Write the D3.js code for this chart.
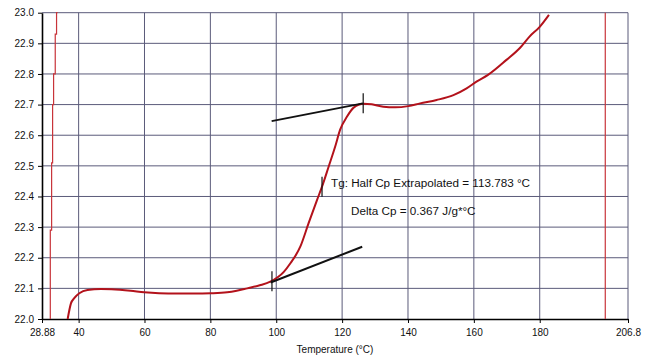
<!DOCTYPE html>
<html>
<head>
<meta charset="utf-8">
<script src="https://cdn.jsdelivr.net/npm/d3@7"></script>
<style>
  body { margin: 0; background: #fff; }
  svg { display: block; font-family: "Liberation Sans", Arial, sans-serif; }
</style>
</head>
<body>
<div id="chart"></div>
<script>
// DSC trace
const tempC = [36.67, 37.67, 38.67, 40.2, 42.7, 46.75, 50, 55.8, 59.9, 64.4, 70, 75, 80.1, 85.1, 88, 91.2, 95, 98.2,
  102.3, 104.3, 107.3, 109.8, 112.4, 113.9, 115.9, 117.9, 119.4, 121.5, 123.5, 126.5, 129.0, 132.5, 136.1, 140.1,
  143.7, 148.7, 153.8, 157.8, 160.8, 164.3, 169.9, 173.9, 176.9, 180.0, 182.8];
const signal = [22.0, 22.051, 22.068, 22.084, 22.095, 22.098, 22.097, 22.092, 22.087, 22.084, 22.083, 22.083, 22.084,
  22.087, 22.092, 22.1, 22.11, 22.122, 22.154, 22.182, 22.236, 22.312, 22.389, 22.432, 22.497, 22.563, 22.618,
  22.661, 22.69, 22.703, 22.701, 22.693, 22.691, 22.695, 22.704, 22.715, 22.731, 22.753, 22.775, 22.797, 22.846,
  22.884, 22.922, 22.954, 22.993];

// analysis limits (red verticals)
const leftLimitT = [31.4, 31.8, 32.1, 32.4, 32.9, 33.3, 33.6];
const leftLimitY = [22.0, 22.29, 22.51, 22.7, 22.8, 22.93, 23.0];
const rightLimitT = [199.9, 199.9];
const rightLimitY = [22.0, 23.0];

// tangents and Tg markers
const upperTangentT = [98.6, 126.3];
const upperTangentY = [22.646, 22.704];
const lowerTangentT = [98.3, 126.1];
const lowerTangentY = [22.119, 22.236];
const markerT = [98.7, 113.9, 126.4];
const markerY = [22.123, 22.432, 22.704];

const xTicks = [28.88, 40, 60, 80, 100, 120, 140, 160, 180, 206.8];
const yTicks = [22.0, 22.1, 22.2, 22.3, 22.4, 22.5, 22.6, 22.7, 22.8, 22.9, 23.0];
const tgLabel = 'Tg: Half Cp Extrapolated = 113.783 °C';
const dcpLabel = 'Delta Cp = 0.367 J/g*°C';
const xTitle = 'Temperature (°C)';

const width = 645, height = 359;
const margin = {top: 12.7, right: 17, bottom: 40, left: 42};

const svg = d3.select('#chart').append('svg')
  .attr('width', width)
  .attr('height', height);

const x = d3.scaleLinear().domain([28.88, 206.8]).range([margin.left, width - margin.right]);
const y = d3.scaleLinear().domain([22.0, 23.0]).range([height - margin.bottom, margin.top]);

// grid
const gridCol = '#5b5b7a';
svg.append('g').selectAll('line')
  .data(xTicks.slice(1))
  .enter().append('line')
  .attr('x1', d => x(d)).attr('x2', d => x(d))
  .attr('y1', y(22.0)).attr('y2', y(23.0))
  .attr('stroke', gridCol).attr('stroke-width', 1);
svg.append('g').selectAll('line')
  .data(yTicks.slice(1))
  .enter().append('line')
  .attr('x1', x(28.88)).attr('x2', x(206.8))
  .attr('y1', d => y(d)).attr('y2', d => y(d))
  .attr('stroke', gridCol).attr('stroke-width', 1);

// axes
const xAxis = svg.append('g')
  .attr('transform', `translate(0,${y(22.0)})`)
  .call(d3.axisBottom(x).tickValues(xTicks).tickFormat(d => String(d)).tickSize(4).tickSizeOuter(0).tickPadding(6));
const yAxis = svg.append('g')
  .attr('transform', `translate(${x(28.88)},0)`)
  .call(d3.axisLeft(y).tickValues(yTicks).tickFormat(d3.format('.1f')).tickSize(4).tickSizeOuter(0).tickPadding(4));
[xAxis, yAxis].forEach(g => {
  g.select('.domain').attr('stroke', '#000').attr('stroke-width', 1.6);
  g.selectAll('.tick line').attr('stroke', '#000');
  g.selectAll('text').attr('fill', '#111').style('font-size', '10px').style('font-family', '"Liberation Sans", Arial, sans-serif');
});

svg.append('text')
  .attr('x', (x(28.88) + x(206.8)) / 2)
  .attr('y', 353)
  .attr('text-anchor', 'middle')
  .style('font-size', '10px')
  .attr('fill', '#111')
  .text(xTitle);

// limit lines
const stepLine = d3.line().x(d => x(d[0])).y(d => y(d[1])).curve(d3.curveStepBefore);
svg.append('path')
  .datum(leftLimitT.map((t, i) => [t, leftLimitY[i]]))
  .attr('fill', 'none').attr('stroke', '#c8343a').attr('stroke-width', 1.2)
  .attr('d', stepLine);
svg.append('path')
  .datum(rightLimitT.map((t, i) => [t, rightLimitY[i]]))
  .attr('fill', 'none').attr('stroke', '#c8343a').attr('stroke-width', 1.2)
  .attr('d', stepLine);

// main trace
const line = d3.line()
  .x(d => x(d[0]))
  .y(d => y(d[1]))
  .curve(d3.curveMonotoneX);
svg.append('path')
  .datum(tempC.map((t, i) => [t, signal[i]]))
  .attr('fill', 'none')
  .attr('stroke', '#b3121b')
  .attr('stroke-width', 2)
  .attr('d', line);

// tangents
const plain = d3.line().x(d => x(d[0])).y(d => y(d[1]));
[[upperTangentT, upperTangentY], [lowerTangentT, lowerTangentY]].forEach(([ts, vs]) => {
  svg.append('path')
    .datum(ts.map((t, i) => [t, vs[i]]))
    .attr('fill', 'none').attr('stroke', '#111').attr('stroke-width', 2)
    .attr('d', plain);
});

// markers
svg.append('g').selectAll('line')
  .data(markerT.map((t, i) => [t, markerY[i]]))
  .enter().append('line')
  .attr('x1', d => x(d[0])).attr('x2', d => x(d[0]))
  .attr('y1', d => y(d[1]) - 10).attr('y2', d => y(d[1]) + 10)
  .attr('stroke', '#111').attr('stroke-width', 1.2);

// annotations
svg.append('text')
  .attr('x', x(markerT[1]) + 9)
  .attr('y', y(markerY[1]) + 0.5)
  .style('font-size', '11.7px')
  .attr('fill', '#111')
  .text(tgLabel);
svg.append('text')
  .attr('x', x(markerT[1]) + 29)
  .attr('y', y(markerY[1]) + 28.5)
  .style('font-size', '11.7px')
  .attr('fill', '#111')
  .text(dcpLabel);
</script>
</body>
</html>
